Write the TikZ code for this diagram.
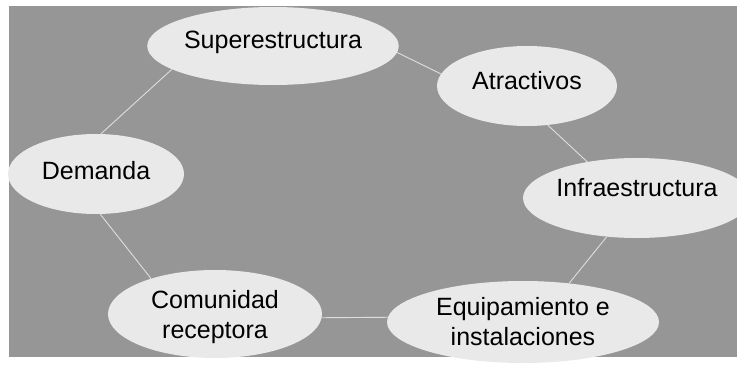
\documentclass[tikz,border=0pt]{standalone}
\usepackage{fontspec}
\setmainfont{Liberation Sans}
\usetikzlibrary{shapes.geometric}
\definecolor{bggray}{RGB}{150,150,150}
\definecolor{bubblefill}{RGB}{233,233,233}
\definecolor{linkgray}{RGB}{222,222,222}
\def\lw{0.9pt}
\tikzset{
    bubble/.style = {
        ellipse, fill=bubblefill, inner sep=0pt, align=center,
        font=\fontsize{25}{30}\selectfont
    },
    link/.style = {draw=linkgray, line width=\lw}
}

\begin{document}
\begin{tikzpicture}[x=1pt, y=-1pt]
        \useasboundingbox (0,0) rectangle (737,367);
        \fill[bggray] (9,6) rectangle (737,357);
        % ring of ellipses
        \node[bubble, minimum width=246, minimum height=78, text depth=13pt] (sup) at (273,46) {Superestructura};
        \node[bubble, minimum width=180, minimum height=80, text depth=12pt] (atr) at (527,86) {Atractivos};
        \node[bubble, minimum width=180, minimum height=80, text depth=22pt] (inf) at (637,198) {Infraestructura};
        \node[bubble, minimum width=272, minimum height=82] (equ) at (523,322) {Equipamiento e\\instalaciones};
        \node[bubble, minimum width=214, minimum height=88, text depth=-11pt] (com) at (215,314) {Comunidad\\receptora};
        \node[bubble, minimum width=176, minimum height=80, text depth=8pt] (dem) at (96,174) {Demanda};
        \begin{scope}[link]
            \draw (sup.-3) -- (atr.172);
            \draw (atr.-62) -- (inf.144);
            \draw (inf.-128) -- (equ.40);
            \draw (equ.178) -- (com.-2);
            \draw (com.151) -- (dem.-84);
            \draw (dem.83) -- (sup.-167);
        \end{scope}
    \end{tikzpicture}
\end{document}
